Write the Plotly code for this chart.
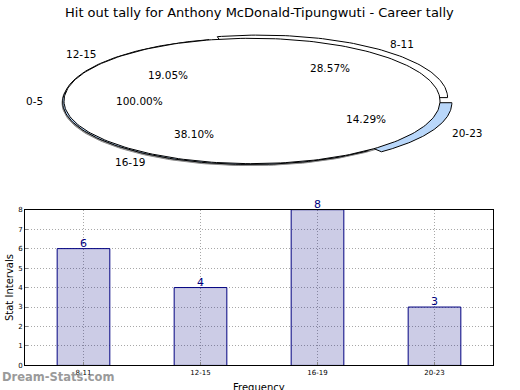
import numpy as np
import plotly.graph_objects as go

title_text = "Hit out tally for Anthony McDonald-Tipungwuti - Career tally"

# bar chart data
categories = ["8-11", "12-15", "16-19", "20-23"]
values = [6, 4, 8, 3]

# pie data (clockwise order from start angle)
pie_labels = ["8-11", "20-23", "16-19", "12-15"]
pie_values = [6, 3, 8, 4]
pie_explode = [0.065, 0.07, 0.015, 0.005]
pie_colors = ["#ffffff", "#b9d7fa", "#b9d7fa", "#ffffff"]
zero_label = "0-5"
zero_pct_text = "100.00%"
zero_angle = 180

W, H = 520, 390
CX, CY, RX, RY = 252, 99, 188, 64
START = 103
FONT = "DejaVu Sans"

fig = go.Figure()


def pt(theta, r, off=(0.0, 0.0)):
    t = np.radians(theta)
    return CX + off[0] + RX * r * np.cos(t), CY + off[1] - RY * r * np.sin(t)


def wedge(a1, a2, r, off):
    th = np.linspace(a1, a2, 80)
    xs, ys = pt(th, r, off)
    cx, cy = pt(0, 0, off)
    return np.concatenate([[cx], xs, [cx]]), np.concatenate([[cy], ys, [cy]])


def txt(x, y, text, xref="x2", yref="y2", xa="center", ya="middle", size=10.5, color="black", **kw):
    return dict(x=x, y=y, xref=xref, yref=yref, text=text, showarrow=False,
                xanchor=xa, yanchor=ya, font=dict(family=FONT, size=size, color=color), **kw)


total = sum(pie_values)
# shadow
th = np.linspace(0, 360, 240)
sx, sy = pt(th, 1.0, (-2, 2))
fig.add_trace(go.Scatter(x=sx, y=sy, fill="toself", fillcolor="#8a8a8a",
                         line=dict(color="#8a8a8a", width=1), mode="lines",
                         xaxis="x2", yaxis="y2", hoverinfo="skip"))

annots = []
a = START
for lab, v, e, c in zip(pie_labels, pie_values, pie_explode, pie_colors):
    span = 360.0 * v / total
    a2 = a - span
    mid = (a + a2) / 2
    off = (RX * e * np.cos(np.radians(mid)), -RY * e * np.sin(np.radians(mid)))
    wx, wy = wedge(a, a2, 1.0, off)
    fig.add_trace(go.Scatter(x=wx, y=wy, fill="toself", fillcolor=c,
                             line=dict(color="black", width=1), mode="lines",
                             xaxis="x2", yaxis="y2", hoverinfo="skip"))
    px, py = pt(mid, 0.6, off)
    annots.append(txt(px, py, f"{100.0*v/total:.2f}%"))
    lx, ly = pt(mid, 1.1, off)
    annots.append(txt(lx, ly, lab, xa="left" if np.cos(np.radians(mid)) > 0 else "right"))
    a = a2

# main face
mx, my = pt(th, 1.0)
fig.add_trace(go.Scatter(x=mx, y=my, fill="toself", fillcolor="white",
                         line=dict(color="black", width=1), mode="lines",
                         xaxis="x2", yaxis="y2", hoverinfo="skip"))

zx, zy = pt(zero_angle, 0.6)
annots.append(txt(zx, zy, zero_pct_text))
zx, zy = pt(zero_angle, 1.1)
annots.append(txt(zx, zy, zero_label, xa="right"))

# bars
fig.add_trace(go.Bar(x=categories, y=values, width=0.45,
                     marker=dict(color="rgba(0,0,128,0.2)", line=dict(color="#000080", width=1)),
                     xaxis="x", yaxis="y", hoverinfo="skip"))
for cat, v in zip(categories, values):
    annots.append(txt(cat, v, str(v), xref="x", yref="y", ya="bottom", size=11,
                      color="#000080", yshift=-3))

annots.append(txt(259, 9, title_text, size=13))
annots.append(txt(9, 290, "Stat Intervals", size=10, textangle=-90))
annots.append(txt(259, 384, "Frequency", size=10, ya="top"))
annots.append(txt(0, 381, "<b>Dream-Stats.com</b>", xa="left", size=11.5, color="#9a9a9a"))

grid = dict(showgrid=True, gridcolor="#a8a8a8", griddash="1px,2px", gridwidth=1)
fig.update_layout(
    width=W, height=H, margin=dict(l=0, r=0, t=0, b=0, pad=0),
    paper_bgcolor="white", plot_bgcolor="rgba(0,0,0,0)", showlegend=False,
    annotations=annots,
    xaxis=dict(domain=[25 / W, 493 / W], range=[-0.5, 3.5], type="category",
               showline=True, linecolor="black", mirror=True, ticks="inside", ticklen=3,
               tickcolor="#888", tickfont=dict(family=FONT, size=7, color="black"),
               zeroline=False, anchor="y", **grid),
    yaxis=dict(domain=[21 / H, 180 / H], range=[0, 8], dtick=1,
               showline=True, linecolor="black", mirror="ticks", ticks="inside", ticklen=3,
               tickcolor="#888", tickfont=dict(family=FONT, size=7, color="black"),
               zeroline=False, anchor="x", **grid),
    xaxis2=dict(domain=[0, 1], range=[0, W], visible=False, anchor="y2", fixedrange=True),
    yaxis2=dict(domain=[0, 1], range=[H, 0], visible=False, anchor="x2", fixedrange=True),
)
fig.write_html("out.html", config={"displayModeBar": False, "staticPlot": True},
               post_script="document.body.style.margin='0';document.body.style.overflow='hidden';")
